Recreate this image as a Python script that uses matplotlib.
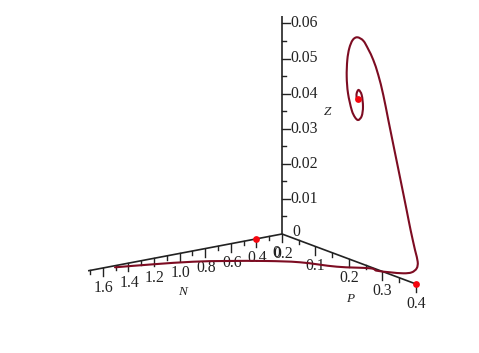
import numpy as np
import matplotlib
matplotlib.use("Agg")
import matplotlib.pyplot as plt
from matplotlib.path import Path
from matplotlib.patches import PathPatch

plt.rcParams['font.family'] = ['Liberation Serif', 'DejaVu Serif']

# Trajectory values
N_vals = [1.527, 1.287, 1.044, 0.861, 0.654, 0.4995, 0.37, 0.2203, 0.2189, 0.1723, 0.1173, 0.09] + [0.08] * 30
P_vals = [0.0085, 0.031, 0.0576, 0.0875, 0.1278, 0.168, 0.2285, 0.2704, 0.2899, 0.3118, 0.3305, 0.3451,
          0.3562, 0.3592, 0.3512, 0.338, 0.3261, 0.31, 0.2897, 0.2715, 0.2565, 0.2416, 0.2267, 0.2118,
          0.1968, 0.1789, 0.1652, 0.155, 0.1491, 0.1473, 0.1512, 0.1622, 0.1721, 0.1819, 0.1921, 0.1959,
          0.1921, 0.1831, 0.1771, 0.1771, 0.181, 0.181]
Z_vals = [0, 0, 0, 0, 0, 0, 0, 0, 0, 0, 0, 0.0006,
          0.00208, 0.00407, 0.00712, 0.01234, 0.01762, 0.02465, 0.03342, 0.04132, 0.0479, 0.05307, 0.05681, 0.05933,
          0.06125, 0.06158, 0.06032, 0.0576, 0.05405, 0.04923, 0.04464, 0.04027, 0.03854, 0.03813, 0.03963, 0.04241,
          0.04561, 0.04672, 0.04556, 0.04414, 0.04408, 0.04408]
# Equilibrium points (N, P, Z)
eq_N = [0.4, 0.2, 0.08]
eq_P = [0.0, 0.4, 0.181]
eq_Z = [0.0, 0.0, 0.0441]

N_major = [0.2, 0.4, 0.6, 0.8, 1.0, 1.2, 1.4, 1.6]
N_labels = ['0.2', '0.4', '0.6', '0.8', '1.0', '1.2', '1.4', '1.6']
P_major = [0.1, 0.2, 0.3, 0.4]
P_labels = ['0.1', '0.2', '0.3', '0.4']
Z_major = [0.01, 0.02, 0.03, 0.04, 0.05, 0.06]
Z_labels = ['0.01', '0.02', '0.03', '0.04', '0.05', '0.06']
N_end, P_end, Z_end = 1.715, 0.4, 0.062

INK = '#222222'
TICK_FS = 11.3


def proj(n, p, z):
    n, p, z = np.asarray(n, float), np.asarray(p, float), np.asarray(z, float)
    u = n - 0.2
    return 282 - 128 * u + 335 * p, 234 + 24.3 * u + 125 * p - 3510 * z


fig = plt.figure(figsize=(4.79, 3.53), dpi=100)
ax = fig.add_axes([0, 0, 1, 1])
ax.set_xlim(0, 479)
ax.set_ylim(353, 0)
ax.axis('off')

# axes
for a, b in [((0.2, 0, 0), (N_end, 0, 0)), ((0.2, 0, 0), (0.2, P_end, 0)), ((0.2, 0, 0), (0.2, 0, Z_end))]:
    x, y = proj(*zip(a, b))
    ax.plot(x, y, color=INK, lw=1.2, solid_capstyle='butt')

# N ticks
for n in np.arange(0.2, 1.75, 0.1):
    x, y = proj(n, 0, 0)
    major = round(n * 10) % 2 == 0
    ax.plot([x, x], [y, y + (8 if major else 4)], color=INK, lw=1.0)
for n, s in zip(N_major, N_labels):
    x, y = proj(n, 0, 0)
    ax.text(x + 1, y + 19.5, s, ha='center', va='center', fontsize=TICK_FS, color=INK)
# P ticks
for p in np.arange(0.05, 0.41, 0.05):
    x, y = proj(0.2, p, 0)
    major = round(p * 20) % 2 == 0
    ax.plot([x, x], [y, y + (8 if major else 4)], color=INK, lw=1.0)
for p, s in zip(P_major, P_labels):
    x, y = proj(0.2, p, 0)
    ax.text(x, y + 19.5, s, ha='center', va='center', fontsize=TICK_FS, color=INK)
ax.text(296, 232, '0', ha='center', va='center', fontsize=TICK_FS, color=INK)
ax.text(276.5, 253, '0', ha='center', va='center', fontsize=TICK_FS, color=INK)
# Z ticks
for z in np.arange(0.005, 0.0625, 0.005):
    x, y = proj(0.2, 0, z)
    major = round(z * 200) % 2 == 0
    ax.plot([x, x + (8 if major else 4)], [y, y], color=INK, lw=1.0)
for z, s in zip(Z_major, Z_labels):
    x, y = proj(0.2, 0, z)
    ax.text(x + 8, y, s, ha='left', va='center', fontsize=TICK_FS, color=INK)

ax.text(183, 292, 'N', ha='center', va='center', fontsize=9.5, style='italic', color=INK)
ax.text(350, 299, 'P', ha='center', va='center', fontsize=9.5, style='italic', color=INK)
ax.text(328, 112, 'Z', ha='center', va='center', fontsize=9.5, style='italic', color=INK)

# curve: smooth Catmull-Rom spline through the projected values
px, py = proj(N_vals, P_vals, Z_vals)
pts = np.column_stack([px, py])
ext = np.vstack([pts[0], pts, pts[-1]])
verts, codes = [pts[0]], [Path.MOVETO]
for i in range(1, len(ext) - 2):
    p0, p1, p2, p3 = ext[i - 1], ext[i], ext[i + 1], ext[i + 2]
    verts += [p1 + (p2 - p0) / 6, p2 - (p3 - p1) / 6, p2]
    codes += [Path.CURVE4] * 3
ax.add_patch(PathPatch(Path(np.array(verts), codes), fc='none', ec='#7d0c22', lw=1.5, capstyle='round', zorder=3))

# equilibrium points
ex, ey = proj(eq_N, eq_P, eq_Z)
ax.scatter(ex, ey, s=24, color='#f5060f', marker='o', zorder=4, linewidths=0)

fig.savefig('out.png', dpi=100)
